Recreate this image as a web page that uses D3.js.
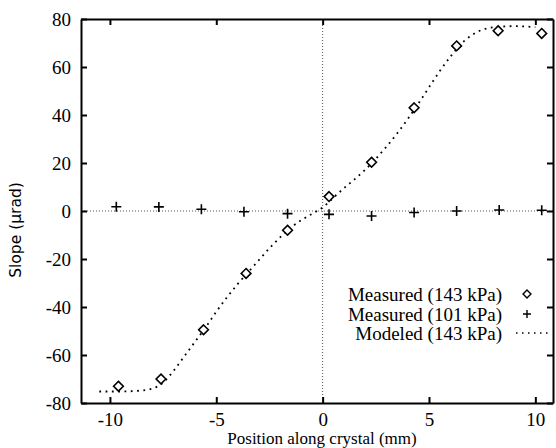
<!DOCTYPE html>
<html>
<head>
<meta charset="utf-8">
<script src="https://cdn.jsdelivr.net/npm/d3@7"></script>
<style>
  body { margin: 0; background: #fff; }
  text { font-family: "Liberation Serif", serif; fill: #000; }
</style>
</head>
<body>
<svg></svg>
<script>
var width = 556,
    height = 448

// measured at 143 kPa (diamonds)
var hiX = [-9.6, -7.6, -5.6, -3.6, -1.65, 0.3, 2.3, 4.3, 6.3, 8.25, 10.3]
var hiY = [-73, -70, -49.5, -26, -8, 6, 20.3, 43, 68.8, 75.1, 74]

// measured at 101 kPa (plus)
var loX = [-9.7, -7.7, -5.7, -3.7, -1.65, 0.3, 2.3, 4.3, 6.3, 8.3, 10.3]
var loY = [1.8, 1.7, 0.7, -0.3, -1.1, -1.4, -2.1, -0.6, 0, 0.4, 0.3]

// modeled at 143 kPa
var modX = [-10.5, -9.5, -8.5, -8, -7.5, -7, -6.5, -6, -5.5, -5, -4.5, -4, -3.5, -3, -2.5, -2, -1.5, -1, -0.5, 0, 0.5, 1, 1.5, 2, 2.5, 3, 3.5, 4, 4.5, 5, 5.5, 6, 6.5, 7, 7.5, 8, 9, 10]
var modY = [-75.2, -75.2, -74.8, -74, -71.5, -66.5, -60.5, -54.5, -48.5, -42, -36, -30.5, -25.5, -20.5, -15.5, -11, -7, -3.8, -1.2, 1.5, 5.5, 9.5, 13.2, 17.2, 21.8, 26.8, 32.3, 38.3, 44.8, 51.5, 58.2, 64.2, 69.5, 73.2, 75.5, 76.5, 77, 76.6]

var xTicks = [-10, -5, 0, 5, 10]
var yTicks = [-80, -60, -40, -20, 0, 20, 40, 60, 80]

var legendLabels = ["Measured (143 kPa)", "Measured (101 kPa)", "Modeled (143 kPa)"]

var svg = d3.select("svg").attr("width", width).attr("height", height)

var pLeft = 81, pRight = 553, pTop = 19, pBottom = 403

var x = d3.scaleLinear().domain([-11.36, 10.83]).range([pLeft, pRight])
var y = d3.scaleLinear().domain([-80, 80]).range([pBottom, pTop])

var fmt = function(d) { return String(d) }

// zero lines
svg.append("line")
  .attr("x1", x(0)).attr("x2", x(0)).attr("y1", pTop).attr("y2", pBottom)
  .attr("stroke", "#555").attr("stroke-width", 1).attr("stroke-dasharray", "1,2")
svg.append("line")
  .attr("x1", pLeft).attr("x2", pRight).attr("y1", y(0)).attr("y2", y(0))
  .attr("stroke", "#555").attr("stroke-width", 1).attr("stroke-dasharray", "1,2")

// axes with inward ticks
svg.append("g").attr("transform", "translate(0," + pBottom + ")")
  .call(d3.axisBottom(x).tickValues(xTicks).tickSizeInner(-6).tickSizeOuter(0).tickPadding(10).tickFormat(fmt))
svg.append("g").attr("transform", "translate(0," + pTop + ")")
  .call(d3.axisTop(x).tickValues(xTicks).tickSizeInner(-6).tickSizeOuter(0).tickFormat(""))
svg.append("g").attr("transform", "translate(" + pLeft + ",0)")
  .call(d3.axisLeft(y).tickValues(yTicks).tickSizeInner(-6).tickSizeOuter(0).tickPadding(10).tickFormat(fmt))
svg.append("g").attr("transform", "translate(" + pRight + ",0)")
  .call(d3.axisRight(y).tickValues(yTicks).tickSizeInner(-6).tickSizeOuter(0).tickFormat(""))

svg.selectAll(".domain").attr("stroke", "#000").attr("stroke-width", 2)
svg.selectAll(".tick line").attr("stroke", "#000").attr("stroke-width", 2)
svg.selectAll(".tick text")
  .style("font-family", "'Liberation Serif', serif")
  .style("font-size", "19px")
  .attr("fill", "#000")

// modeled curve
var modData = modX.map(function(d, i) { return [d, modY[i]] })
svg.append("path")
  .datum(modData)
  .attr("fill", "none")
  .attr("stroke", "#000")
  .attr("stroke-width", 1.8)
  .attr("stroke-dasharray", "1.8,4.5")
  .attr("d", d3.line().curve(d3.curveMonotoneX)
    .x(function(d) { return x(d[0]) })
    .y(function(d) { return y(d[1]) }))

var diamond = d3.symbol().type(d3.symbolDiamond2).size(60)
var plus = "M-5,0H5M0,-5V5"

svg.selectAll(".hi")
  .data(hiX.map(function(d, i) { return [d, hiY[i]] }))
  .enter().append("path")
  .attr("transform", function(d) { return "translate(" + x(d[0]) + "," + y(d[1]) + ")" })
  .attr("d", diamond)
  .attr("fill", "#fff")
  .attr("stroke", "#000")
  .attr("stroke-width", 1.6)

svg.selectAll(".lo")
  .data(loX.map(function(d, i) { return [d, loY[i]] }))
  .enter().append("path")
  .attr("transform", function(d) { return "translate(" + x(d[0]) + "," + y(d[1]) + ")" })
  .attr("d", plus)
  .attr("stroke", "#000")
  .attr("stroke-width", 1.6)

// legend
var legY = [294, 314, 333]
svg.selectAll(".leg")
  .data(legendLabels)
  .enter().append("text")
  .attr("x", 502)
  .attr("y", function(d, i) { return legY[i] })
  .attr("dy", "0.35em")
  .attr("text-anchor", "end")
  .style("font-size", "19px")
  .text(function(d) { return d })

svg.append("path")
  .attr("transform", "translate(527," + legY[0] + ")")
  .attr("d", d3.symbol().type(d3.symbolDiamond2).size(40))
  .attr("fill", "#fff").attr("stroke", "#000").attr("stroke-width", 1.4)
svg.append("path")
  .attr("transform", "translate(527," + legY[1] + ")")
  .attr("d", "M-4,0H4M0,-4V4")
  .attr("stroke", "#000").attr("stroke-width", 1.4)
svg.append("line")
  .attr("x1", 516).attr("x2", 548).attr("y1", legY[2]).attr("y2", legY[2])
  .attr("stroke", "#000").attr("stroke-width", 1.4).attr("stroke-dasharray", "1.5,4.5")

// axis titles
svg.append("text")
  .attr("x", 322).attr("y", 444)
  .attr("text-anchor", "middle")
  .style("font-size", "17px")
  .text("Position along crystal (mm)")

svg.append("text")
  .attr("transform", "translate(21,230) rotate(-90)")
  .attr("text-anchor", "middle")
  .style("font-family", "'DejaVu Sans', sans-serif")
  .style("font-size", "15.5px")
  .text("Slope (μrad)")
</script>
</body>
</html>
